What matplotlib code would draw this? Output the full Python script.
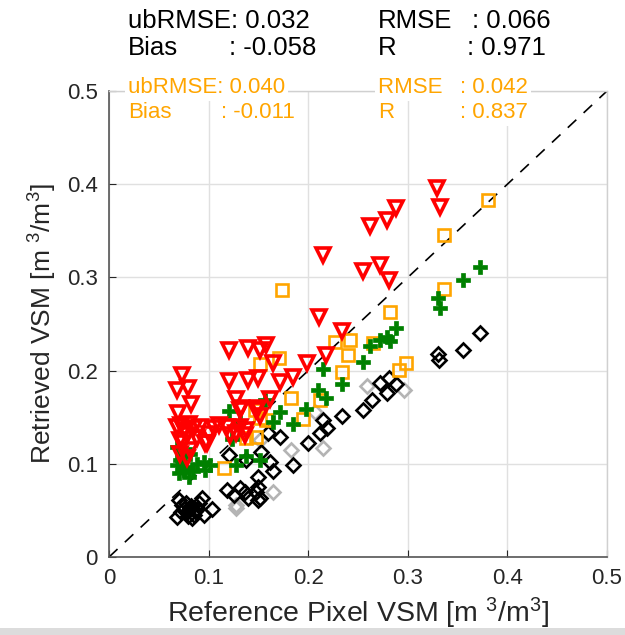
import matplotlib
matplotlib.use('Agg')
import matplotlib.pyplot as plt
from matplotlib.patches import Rectangle

plt.rcParams['font.family'] = ['Liberation Sans', 'DejaVu Sans']
plt.rcParams['mathtext.fontset'] = 'custom'
plt.rcParams['mathtext.rm'] = 'Liberation Sans'
plt.rcParams['mathtext.it'] = 'Liberation Sans'

# retrieved vs reference VSM, one list pair per retrieval
red_x = [0.329, 0.332, 0.288, 0.279, 0.262, 0.215, 0.272, 0.255, 0.281, 0.211,
         0.234, 0.218, 0.199, 0.185, 0.172, 0.165, 0.158, 0.152, 0.140, 0.120,
         0.120, 0.140, 0.150, 0.128, 0.162, 0.150, 0.133, 0.073, 0.068, 0.079,
         0.082, 0.069, 0.068, 0.075, 0.091, 0.105, 0.118, 0.132, 0.071, 0.098,
         0.081, 0.071, 0.078, 0.128, 0.138, 0.148, 0.152, 0.132, 0.072, 0.080,
         0.085, 0.078, 0.088, 0.100, 0.110, 0.074, 0.096, 0.121, 0.137]
red_y = [0.396, 0.376, 0.374, 0.362, 0.355, 0.324, 0.313, 0.307, 0.297, 0.258,
         0.243, 0.217, 0.208, 0.193, 0.188, 0.208, 0.227, 0.222, 0.224, 0.222,
         0.189, 0.190, 0.192, 0.170, 0.170, 0.160, 0.160, 0.195, 0.179, 0.181,
         0.164, 0.155, 0.140, 0.136, 0.140, 0.138, 0.140, 0.140, 0.126, 0.122,
         0.115, 0.111, 0.106, 0.133, 0.136, 0.158, 0.151, 0.158, 0.142, 0.143,
         0.138, 0.131, 0.128, 0.132, 0.142, 0.122, 0.122, 0.131, 0.131]

green_x = [0.372, 0.355, 0.330, 0.332, 0.288, 0.279, 0.272, 0.282, 0.262, 0.255,
           0.215, 0.234, 0.210, 0.218, 0.198, 0.172, 0.157, 0.120, 0.185, 0.165,
           0.132, 0.123, 0.128, 0.138, 0.152, 0.068, 0.071, 0.068, 0.075, 0.080,
           0.088, 0.095, 0.101, 0.096, 0.081, 0.073, 0.077, 0.084, 0.070]
green_y = [0.311, 0.297, 0.278, 0.267, 0.246, 0.236, 0.233, 0.232, 0.226, 0.209,
           0.202, 0.186, 0.179, 0.171, 0.159, 0.156, 0.168, 0.157, 0.143, 0.145,
           0.145, 0.127, 0.099, 0.108, 0.104, 0.118, 0.104, 0.099, 0.093, 0.086,
           0.100, 0.102, 0.099, 0.093, 0.111, 0.108, 0.097, 0.092, 0.090]

orange_x = [0.381, 0.336, 0.336, 0.174, 0.282, 0.227, 0.242, 0.265, 0.240, 0.171,
            0.152, 0.234, 0.298, 0.291, 0.183, 0.212, 0.152, 0.158, 0.195, 0.147,
            0.148, 0.138, 0.115]
orange_y = [0.383, 0.346, 0.288, 0.286, 0.263, 0.231, 0.233, 0.230, 0.217, 0.214,
            0.207, 0.198, 0.208, 0.201, 0.171, 0.169, 0.149, 0.147, 0.148, 0.158,
            0.129, 0.128, 0.095]

black_x = [0.372, 0.355, 0.330, 0.331, 0.281, 0.272, 0.288, 0.279, 0.264, 0.255,
           0.234, 0.215, 0.219, 0.212, 0.200, 0.172, 0.185, 0.160, 0.162, 0.165,
           0.150, 0.150, 0.152, 0.153, 0.120, 0.138, 0.118, 0.125, 0.132, 0.137,
           0.140, 0.150, 0.148, 0.070, 0.075, 0.093, 0.103, 0.095, 0.068, 0.078,
           0.082, 0.085, 0.080, 0.088, 0.073, 0.077, 0.083, 0.079, 0.086, 0.072,
           0.090, 0.081]
black_y = [0.240, 0.222, 0.218, 0.211, 0.192, 0.187, 0.186, 0.176, 0.168, 0.158,
           0.151, 0.147, 0.138, 0.133, 0.122, 0.129, 0.099, 0.133, 0.102, 0.092,
           0.086, 0.075, 0.063, 0.113, 0.109, 0.104, 0.072, 0.067, 0.074, 0.070,
           0.063, 0.061, 0.070, 0.061, 0.052, 0.063, 0.052, 0.045, 0.043, 0.048,
           0.055, 0.045, 0.050, 0.052, 0.056, 0.058, 0.042, 0.044, 0.049, 0.048,
           0.058, 0.053]

gray_x = [0.259, 0.296, 0.207, 0.183, 0.215, 0.165, 0.152, 0.128, 0.128]
gray_y = [0.183, 0.179, 0.156, 0.115, 0.117, 0.070, 0.126, 0.056, 0.053]

ticks = [0, 0.1, 0.2, 0.3, 0.4, 0.5]
tick_labels = ['0', '0.1', '0.2', '0.3', '0.4', '0.5']

ORANGE = '#FFA500'
TXT = '#262626'

fig = plt.figure(figsize=(6.25, 6.35), dpi=100)
ax = fig.add_axes([0.1744, 0.1228, 0.7968, 0.7339])

ax.plot([0, 0.5], [0, 0.5], color='black', lw=1.2, dashes=(7, 6), zorder=2)

ax.plot(gray_x, gray_y, 'D', ms=7.5, mfc='none', mec='#b4b4b4', mew=1.9, zorder=3)
ax.plot(black_x, black_y, 'D', ms=7.5, mfc='none', mec='black', mew=1.9, zorder=3)
ax.plot(orange_x, orange_y, 's', ms=8, mfc='none', mec=ORANGE, mew=1.9, zorder=3)
ax.plot(green_x, green_y, 'P', ms=10.5, mfc='green', mec='green', mew=0.5, zorder=3)
ax.plot(red_x, red_y, 'v', ms=10.5, mfc='none', mec='red', mew=2.6, zorder=3)

ax.set_xlim(0, 0.5)
ax.set_ylim(0, 0.5)
ax.set_xticks(ticks)
ax.set_xticklabels(tick_labels)
ax.set_yticks(ticks)
ax.set_yticklabels(tick_labels)
ax.tick_params(direction='in', length=5, labelsize=16, colors=TXT, pad=8)
ax.grid(True, color='#e0e0e0', lw=1)
ax.set_axisbelow(True)
for side in ['left', 'bottom']:
    ax.spines[side].set_color('#555555')
    ax.spines[side].set_linewidth(1.2)
for side in ['top', 'right']:
    ax.spines[side].set_color('#d0d0d0')
    ax.spines[side].set_linewidth(1.0)

ax.set_xlabel('Reference Pixel VSM [m $^{3}$/m$^{3}$]', fontsize=20.5, color=TXT, labelpad=5)
ax.set_ylabel('Retrieved VSM [m $^{3}$/m$^{3}$]', fontsize=19, color=TXT, labelpad=6)

def px(x, y):
    return x / 625, 1 - y / 635

# black stats block
fs_b = 18.5
fig.text(*px(128, 28), 'ubRMSE: 0.032', fontsize=fs_b, color='black')
fig.text(*px(128, 55), 'Bias', fontsize=fs_b, color='black')
fig.text(*px(229, 55), ': -0.058', fontsize=fs_b, color='black')
fig.text(*px(378, 28), 'RMSE', fontsize=fs_b, color='black')
fig.text(*px(472, 28), ': 0.066', fontsize=fs_b, color='black')
fig.text(*px(378, 55), 'R', fontsize=fs_b, color='black')
fig.text(*px(467, 55), ': 0.971', fontsize=fs_b, color='black')

# orange stats block, white boxes hide the top spine
fs_o = 16
box = dict(facecolor='white', edgecolor='none', pad=2)
fig.text(*px(128, 93), 'ubRMSE: 0.040', fontsize=fs_o, color=ORANGE, bbox=box)
fig.text(*px(128, 118), 'Bias', fontsize=fs_o, color=ORANGE, bbox=box)
fig.text(*px(221, 118), ': -0.011', fontsize=fs_o, color=ORANGE, bbox=box)
fig.text(*px(378, 93), 'RMSE   ', fontsize=fs_o, color=ORANGE, bbox=box)
fig.text(*px(460, 93), ': 0.042', fontsize=fs_o, color=ORANGE, bbox=box)
fig.text(*px(378, 118), 'R', fontsize=fs_o, color=ORANGE, bbox=box)
fig.text(*px(460, 118), ': 0.837', fontsize=fs_o, color=ORANGE, bbox=box)

# grey strip along the bottom edge
fig.patches.append(Rectangle((0, 0), 1, 7 / 635, transform=fig.transFigure,
                             facecolor='#dcdcdc', edgecolor='none'))

fig.savefig('out.png', dpi=100)
